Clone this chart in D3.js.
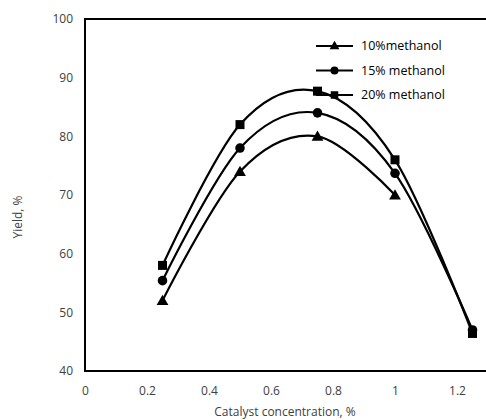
<!DOCTYPE html>
<html>
<head>
<meta charset="utf-8">
<script src="https://cdn.jsdelivr.net/npm/d3@7.9.0/dist/d3.min.js"></script>
<style>
  body { margin: 0; background: #fff; }
  svg { font-family: "Open Sans", "Liberation Sans", sans-serif; }
</style>
</head>
<body>
<div id="chart"></div>
<script>
const xTicks = [0, 0.2, 0.4, 0.6, 0.8, 1, 1.2];
const yTicks = [40, 50, 60, 70, 80, 90, 100];

const seriesNames = ["10%methanol", "15% methanol", "20% methanol"];
const seriesSymbols = ["triangle", "circle", "square"];
const x10 = [0.25, 0.5, 0.75, 1];
const y10 = [52, 74, 80, 70];
const x15 = [0.25, 0.5, 0.75, 1, 1.25];
const y15 = [55.4, 78, 84, 73.7, 47];
const x20 = [0.25, 0.5, 0.75, 1, 1.25];
const y20 = [58, 82, 87.7, 76, 46.4];

const width = 486, height = 420;
const margin = { top: 19, left: 85, bottom: 49 };

const svg = d3.select("#chart").append("svg")
    .attr("width", width)
    .attr("height", height);

// plot area runs past the right edge (x max 1.4 is cropped off)
const xScale = d3.scaleLinear().domain([0, 1.4]).range([margin.left, margin.left + 1.4 * 310]);
const yScale = d3.scaleLinear().domain([40, 100]).range([height - margin.bottom, margin.top]);

// plot frame
svg.append("rect")
    .attr("x", xScale(0))
    .attr("y", yScale(100))
    .attr("width", xScale(1.4) - xScale(0))
    .attr("height", yScale(40) - yScale(100))
    .attr("fill", "none")
    .attr("stroke", "#000")
    .attr("stroke-width", 2);

// axes (labels only, no tick marks)
const xAxis = svg.append("g")
    .attr("transform", `translate(0,${yScale(40)})`)
    .call(d3.axisBottom(xScale).tickValues(xTicks).tickSize(0).tickPadding(15).tickFormat(d3.format("")));
const yAxis = svg.append("g")
    .attr("transform", `translate(${xScale(0)},0)`)
    .call(d3.axisLeft(yScale).tickValues(yTicks).tickSize(0).tickPadding(12));
[xAxis, yAxis].forEach(a => {
    a.select(".domain").remove();
    a.selectAll("text").attr("font-size", 12).attr("fill", "#404040")
        .attr("font-family", "\"Open Sans\", \"Liberation Sans\", sans-serif");
});

svg.append("text")
    .attr("x", 285)
    .attr("y", 416)
    .attr("text-anchor", "middle")
    .attr("font-size", 12)
    .attr("fill", "#404040")
    .text("Catalyst concentration, %");

svg.append("text")
    .attr("transform", "rotate(-90)")
    .attr("x", -217)
    .attr("y", 22)
    .attr("text-anchor", "middle")
    .attr("font-size", 12)
    .attr("fill", "#404040")
    .text("Yield, %");

const symbolType = { triangle: d3.symbolTriangle, circle: d3.symbolCircle, square: d3.symbolSquare };
const symbolSize = { triangle: 60, circle: 72, square: 81 };

const series = [
    { name: seriesNames[0], sym: seriesSymbols[0], pts: x10.map((x, i) => [x, y10[i]]) },
    { name: seriesNames[1], sym: seriesSymbols[1], pts: x15.map((x, i) => [x, y15[i]]) },
    { name: seriesNames[2], sym: seriesSymbols[2], pts: x20.map((x, i) => [x, y20[i]]) }
];

const line = d3.line()
    .x(d => xScale(d[0]))
    .y(d => yScale(d[1]))
    .curve(d3.curveCardinal.tension(0));

series.forEach(s => {
    svg.append("path")
        .attr("d", line(s.pts))
        .attr("fill", "none")
        .attr("stroke", "#000")
        .attr("stroke-width", 2.2);
    svg.selectAll(null).data(s.pts).join("path")
        .attr("transform", d => `translate(${xScale(d[0])},${yScale(d[1]) + (s.sym === "triangle" ? 1 : 0)})`)
        .attr("d", d3.symbol().type(symbolType[s.sym]).size(symbolSize[s.sym]))
        .attr("fill", "#000");
});

// legend
const legend = svg.append("g").attr("transform", "translate(316,46)");
series.forEach((s, i) => {
    const g = legend.append("g").attr("transform", `translate(0,${i * 24.5})`);
    g.append("line").attr("x1", 0).attr("x2", 37).attr("stroke", "#000").attr("stroke-width", 2.2);
    g.append("path")
        .attr("transform", `translate(18.5,${s.sym === "triangle" ? 0.5 : 0})`)
        .attr("d", d3.symbol().type(symbolType[s.sym]).size(symbolSize[s.sym] * 0.7))
        .attr("fill", "#000");
    g.append("text")
        .attr("x", 45)
        .attr("dy", "0.35em")
        .attr("font-size", 12.5)
        .attr("fill", "#000")
        .text(s.name);
});
</script>
</body>
</html>
